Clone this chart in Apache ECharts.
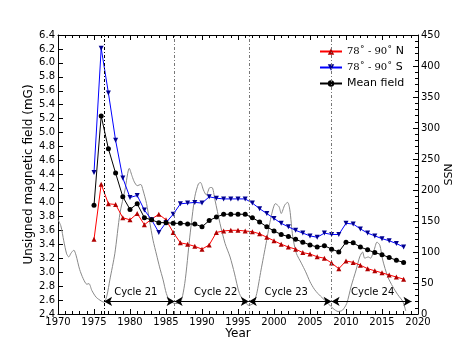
<!DOCTYPE html>
<html>
<head>
<meta charset="utf-8">
<script src="https://cdn.jsdelivr.net/npm/echarts@6/dist/echarts.min.js"></script>
<style>
  html, body { margin: 0; padding: 0; background: #fff; }
  #chart { width: 465px; height: 349px; }
</style>
</head>
<body>
<div id="chart"></div>
<script>
// yearly values
const years = [1975, 1976, 1977, 1978, 1979, 1980, 1981, 1982, 1983, 1984, 1985, 1986, 1987, 1988, 1989,
  1990, 1991, 1992, 1993, 1994, 1995, 1996, 1997, 1998, 1999, 2000, 2001, 2002, 2003, 2004, 2005, 2006,
  2007, 2008, 2009, 2010, 2011, 2012, 2013, 2014, 2015, 2016, 2017, 2018];
const north = [3.47, 4.26, 3.98, 3.97, 3.78, 3.75, 3.84, 3.68, 3.76, 3.83, 3.75, 3.57, 3.42, 3.40, 3.37,
  3.33, 3.39, 3.57, 3.59, 3.60, 3.60, 3.59, 3.58, 3.55, 3.50, 3.45, 3.40, 3.36, 3.33, 3.28, 3.26, 3.22,
  3.20, 3.13, 3.05, 3.16, 3.14, 3.10, 3.05, 3.02, 2.99, 2.96, 2.93, 2.90];
const south = [4.43, 6.21, 5.57, 4.89, 4.35, 4.07, 4.10, 3.89, 3.75, 3.57, 3.71, 3.83, 3.98, 3.99, 4.00,
  3.99, 4.08, 4.06, 4.05, 4.05, 4.05, 4.05, 3.99, 3.91, 3.84, 3.77, 3.70, 3.65, 3.60, 3.56, 3.52, 3.50,
  3.56, 3.54, 3.54, 3.70, 3.69, 3.62, 3.56, 3.52, 3.48, 3.45, 3.41, 3.36];
const meanField = [3.96, 5.24, 4.77, 4.42, 4.08, 3.90, 3.98, 3.78, 3.75, 3.71, 3.71, 3.70, 3.70, 3.69, 3.69,
  3.65, 3.74, 3.79, 3.83, 3.83, 3.83, 3.83, 3.78, 3.72, 3.65, 3.59, 3.54, 3.51, 3.47, 3.43, 3.39, 3.36,
  3.38, 3.33, 3.29, 3.43, 3.42, 3.36, 3.32, 3.28, 3.25, 3.21, 3.17, 3.14];

// smoothed sunspot number
const ssnTime = [1970.0, 1970.4, 1970.8, 1971.2, 1971.5, 1971.8, 1972.2, 1972.5, 1973.0, 1973.5, 1974.0,
  1974.3, 1974.7, 1975.3, 1976.0, 1976.4, 1976.8, 1977.2, 1977.9, 1978.6, 1979.3, 1979.9, 1980.3, 1980.6,
  1981.0, 1981.5, 1981.8, 1982.3, 1982.7, 1983.2, 1983.7, 1984.1, 1984.6, 1985.05, 1985.5, 1986.2, 1986.9,
  1987.6, 1988.3, 1989.0, 1989.5, 1989.8, 1990.2, 1990.6, 1991.1, 1991.4, 1991.8, 1992.5, 1993.2, 1993.9,
  1994.5, 1995.2, 1995.9, 1996.5, 1997.1, 1997.6, 1998.2, 1998.9, 1999.6, 2000.2, 2000.7, 2001.0, 2001.5,
  2001.9, 2002.2, 2002.6, 2003.1, 2003.8, 2004.4, 2005.0, 2005.6, 2006.1, 2006.8, 2007.5, 2008.2, 2008.9,
  2009.5, 2010.1, 2010.7, 2011.4, 2011.9, 2012.3, 2012.6, 2013.1, 2013.4, 2013.9, 2014.3, 2014.7, 2015.1,
  2015.8, 2016.5, 2017.2, 2017.9, 2018.3];
const ssnValue = [152, 142, 118, 97, 92, 98, 103, 95, 72, 57, 48,
  49, 38, 27, 21, 19, 30, 55, 98, 162, 200, 235, 222, 213,
  207, 209, 200, 178, 151, 119, 95, 76, 55, 33, 22, 17, 17,
  49, 124, 189, 210, 212, 200, 192, 204, 204, 184, 146, 114, 92,
  66, 33, 20, 14, 17, 33, 71, 114, 157, 178, 173, 162, 176,
  180, 168, 125, 98, 82, 68, 52, 40, 33, 25, 17, 9, 4,
  6, 17, 44, 71, 92, 100, 90, 92, 90, 103, 116, 111, 87,
  60, 44, 31, 20, 5];

// cycle minima and labels
const cycleMinima = [1976.4, 1986.2, 1996.5, 2008.0];
const cycleEnd = 2019.1;
const cycleNames = ['Cycle 21', 'Cycle 22', 'Cycle 23', 'Cycle 24'];
const cycleLabelX = [1980.8, 1991.9, 2001.7, 2013.7];
const arrowLevel = 2.58;
const labelLevel = 2.71;

const font = 'DejaVu Sans';
const pairs = (vals) => years.map((y, i) => [y, vals[i]]);

const chart = echarts.init(document.getElementById('chart'));

const bounds = cycleMinima.concat([cycleEnd]);
const arrowData = cycleNames.map((n, i) => [
  { coord: [bounds[i], arrowLevel] },
  { coord: [bounds[i + 1], arrowLevel] }
]);
const vLines = cycleMinima.map((x, i) => ({
  xAxis: x,
  lineStyle: { color: i === 0 ? '#000' : '#777', type: [3, 2, 1, 2], width: 1 }
}));

const option = {
  animation: false,
  grid: { left: 58, right: 47, top: 35, bottom: 35 },
  legend: {
    orient: 'vertical',
    left: 314,
    top: 41,
    itemWidth: 22,
    itemHeight: 8,
    itemGap: 5,
    textStyle: {
      fontFamily: font, fontSize: 11, color: '#000',
      rich: { m: { fontFamily: 'DejaVu Serif', fontSize: 10, color: '#000' } }
    },
    formatter: (name) => {
      if (name.indexOf('78') === 0) return '{m|78˚ - 90˚} ' + name.slice(-1);
      return name;
    },
    data: ['78˚ - 90˚ N', '78˚ - 90˚ S', 'Mean field']
  },
  xAxis: [
    {
      type: 'value', min: 1970, max: 2020, interval: 5,
      name: 'Year', nameLocation: 'middle', nameGap: 14, nameMoveOverlap: false,
      nameTextStyle: { fontFamily: font, fontSize: 12, color: '#000' },
      axisLine: { show: true, lineStyle: { color: '#000', width: 1 } },
      axisTick: { inside: true, length: 5, lineStyle: { color: '#000' } },
      minorTick: { show: true, splitNumber: 5, length: 3, lineStyle: { color: '#000' } },
      axisLabel: { fontFamily: font, fontSize: 10, color: '#000', margin: 3,
        formatter: (v) => String(v) },
      splitLine: { show: false }
    },
    {
      type: 'value', min: 1970, max: 2020, interval: 5, position: 'top',
      axisLine: { show: true, lineStyle: { color: '#000', width: 1 } },
      axisTick: { inside: true, length: 5, lineStyle: { color: '#000' } },
      minorTick: { show: true, splitNumber: 5, length: 3, lineStyle: { color: '#000' } },
      axisLabel: { show: false },
      splitLine: { show: false }
    }
  ],
  yAxis: [
    {
      type: 'value', min: 2.4, max: 6.4, interval: 0.2,
      name: 'Unsigned magnetic field (mG)', nameLocation: 'middle', nameGap: 23, nameRotate: 90,
      nameMoveOverlap: false,
      nameTextStyle: { fontFamily: font, fontSize: 12, color: '#000' },
      axisLine: { show: true, lineStyle: { color: '#000', width: 1 } },
      axisTick: { inside: true, length: 5, lineStyle: { color: '#000' } },
      axisLabel: { fontFamily: font, fontSize: 10, color: '#000', margin: 3,
        formatter: (v) => v.toFixed(1) },
      splitLine: { show: false }
    },
    {
      type: 'value', min: 0, max: 450, interval: 50, position: 'right',
      name: 'SSN', nameLocation: 'middle', nameGap: 26, nameRotate: 90, nameMoveOverlap: false,
      nameTextStyle: { fontFamily: font, fontSize: 11, color: '#000' },
      axisLine: { show: true, lineStyle: { color: '#000', width: 1 } },
      axisTick: { inside: true, length: 5, lineStyle: { color: '#000' } },
      minorTick: { show: true, splitNumber: 5, length: 3, lineStyle: { color: '#000' } },
      axisLabel: { fontFamily: font, fontSize: 10, color: '#000', margin: 3 },
      splitLine: { show: false }
    }
  ],
  series: [
    {
      name: 'SSN',
      type: 'line',
      yAxisIndex: 1,
      data: ssnTime.map((t, i) => [t, ssnValue[i]]),
      showSymbol: false,
      smooth: 0.25,
      lineStyle: { color: '#888', width: 1 },
      itemStyle: { color: '#888' },
      z: 1,
      markLine: {
        silent: true,
        symbol: 'none',
        label: { show: false },
        data: vLines
      }
    },
    {
      name: 'cycles',
      type: 'line',
      yAxisIndex: 0,
      data: [],
      z: 3,
      markLine: {
        silent: true,
        symbol: ['arrow', 'arrow'],
        symbolSize: [7, 8],
        label: { show: false },
        lineStyle: { color: '#000', type: 'solid', width: 1 },
        data: arrowData
      },
      markPoint: {
        silent: true,
        symbol: 'circle',
        symbolSize: 1,
        itemStyle: { color: 'rgba(0,0,0,0)' },
        label: { show: true, position: 'inside', fontFamily: font, fontSize: 10, color: '#000',
          formatter: (p) => p.name },
        data: cycleNames.map((n, i) => ({ name: n, coord: [cycleLabelX[i], labelLevel] }))
      }
    },
    {
      name: '78˚ - 90˚ N',
      type: 'line',
      data: pairs(north),
      symbol: 'triangle',
      symbolSize: 5,
      lineStyle: { color: '#ff0000', width: 1 },
      itemStyle: { color: '#b00000' },
      z: 4
    },
    {
      name: '78˚ - 90˚ S',
      type: 'line',
      data: pairs(south),
      symbol: 'triangle',
      symbolRotate: 180,
      symbolSize: 5,
      lineStyle: { color: '#0000ff', width: 1 },
      itemStyle: { color: '#000090' },
      z: 4
    },
    {
      name: 'Mean field',
      type: 'line',
      data: pairs(meanField),
      symbol: 'circle',
      symbolSize: 5,
      lineStyle: { color: '#000', width: 1 },
      itemStyle: { color: '#000' },
      z: 5
    }
  ]
};

chart.setOption(option);
</script>
</body>
</html>
